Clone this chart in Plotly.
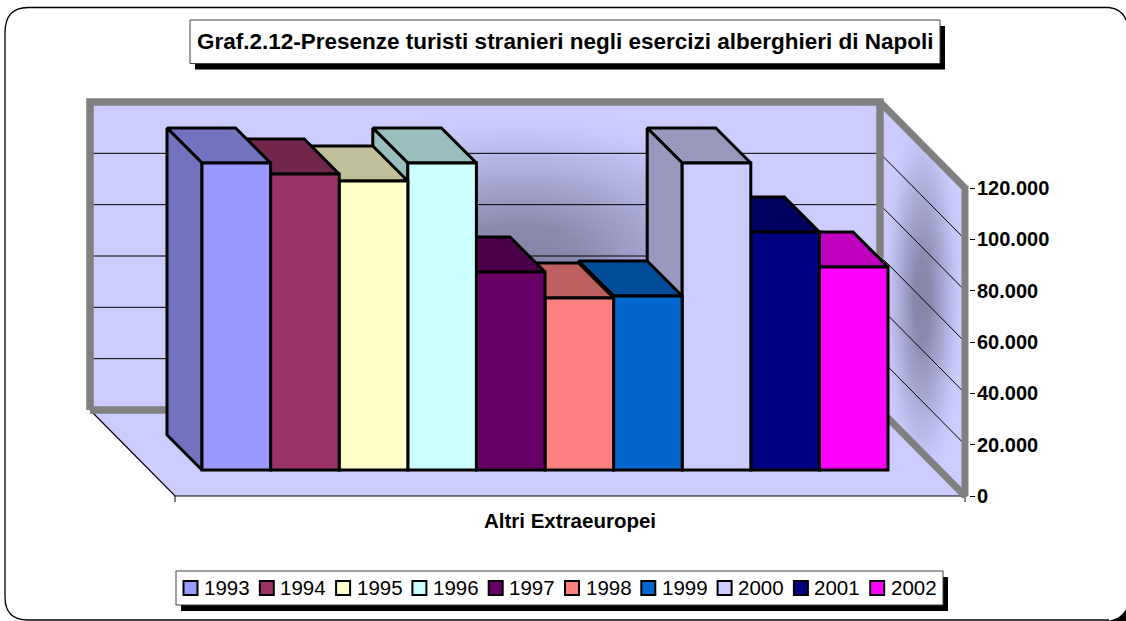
import plotly.graph_objects as go

# ---- data ----
YEARS = ["1993", "1994", "1995", "1996", "1997", "1998", "1999", "2000", "2001", "2002"]
VALUES = [119600, 115300, 112600, 119600, 77100, 67000, 67800, 119600, 92700, 79100]
COLORS = ["#9999FF", "#993366", "#FFFFCC", "#CCFFFF", "#660066",
          "#FF8080", "#0066CC", "#CCCCFF", "#000080", "#FF00FF"]
Y_TICKS = [0, 20000, 40000, 60000, 80000, 100000, 120000]
Y_LABELS = ["0", "20.000", "40.000", "60.000", "80.000", "100.000", "120.000"]
TITLE = "Graf.2.12-Presenze turisti stranieri negli esercizi alberghieri di Napoli"
CATEGORY = "Altri Extraeuropei"

# ---- page and oblique projection set-up ----
W, H = 1126, 621
FONT = "Liberation Sans"
PX_X = 68.6                 # pixels per bar
PX_Y = 308 / 120000         # pixels per value unit
X0_PX, Y0_PX = 236.3, 496   # pixel of x=0 and of value 0
X_RANGE = [-X0_PX / PX_X, (W - X0_PX) / PX_X]
Y_RANGE = [-(H - Y0_PX) / PX_Y, Y0_PX / PX_Y]


def dx(p):
    return p / PX_X


def dy(p):
    return p / PX_Y


XL, XR = dx(175 - X0_PX), dx(965 - X0_PX)
YMAX = Y_TICKS[-1]
WX, WY = dx(85), dy(86)       # depth of the chart box
BX, BY = dx(35), dy(35)       # depth of a bar
BASE = dy(26)                 # bar plane above the floor's front edge


def px(x):
    return x / W


def py(y):
    return 1 - y / H


def shade(c, f=0.75):
    r, g, b = (int(c[i:i + 2], 16) for i in (1, 3, 5))
    return f"rgb({int(r * f)},{int(g * f)},{int(b * f)})"


fig = go.Figure()


def poly(xs, ys, fill=None, line=None, width=0, z=0, grad=None):
    kw = dict(x=xs, y=ys, mode="lines", hoverinfo="skip", showlegend=False, zorder=z,
              line=dict(width=width, color=line or "rgba(0,0,0,0)"))
    if fill or grad:
        kw["fill"] = "toself"
        kw["fillcolor"] = fill
    if grad:
        kw["fillgradient"] = dict(type="radial", colorscale=grad)
    fig.add_trace(go.Scatter(**kw))


WALL = "#CCCCFF"
GRAY = "#808080"
DARK = [[0, "rgba(132,132,168,1)"], [0.2, "rgba(134,134,170,0.95)"],
        [0.45, "rgba(140,140,178,0.65)"], [0.7, "rgba(150,150,190,0.3)"],
        [1, "rgba(204,204,255,0)"]]

# floor, back wall, side wall
poly([XL, XR, XR - WX, XL - WX, XL], [0, 0, WY, WY, 0], fill=WALL, z=-20)
poly([XL - WX, XR - WX, XR - WX, XL - WX, XL - WX], [WY, WY, WY + YMAX, WY + YMAX, WY], fill=WALL, z=-20)
poly([XR, XR - WX, XR - WX, XR, XR], [0, WY, WY + YMAX, YMAX, 0], fill=WALL, z=-20)

# soft shading on the walls
cx, rx = dx(520 - X0_PX), dx(280)
poly([cx - rx, cx + rx, cx + rx, cx - rx, cx - rx],
     [WY, WY, WY + YMAX, WY + YMAX, WY], grad=DARK, z=-19)
poly([XR, XR - WX, XR - WX, XR, XR], [0, WY, WY + YMAX, YMAX, 0], grad=DARK, z=-19)

# gridlines on back and side wall
gx, gy = [], []
for t in Y_TICKS[1:-1]:
    gx += [XL - WX, XR - WX, XR, None]
    gy += [WY + t, WY + t, t, None]
poly(gx, gy, line="#000000", width=1, z=-18)

# floor edges
poly([XL - WX, XL, XR], [WY, 0, 0], line="#000000", width=1.2, z=-18)
poly([XL, XL, None, XR, XR], [0, -dy(6), None, 0, -dy(6)], line="#000000", width=1, z=-18)

# grey frame
poly([XL - WX, XR - WX, XR - WX, XL - WX, XL - WX], [WY, WY, WY + YMAX, WY + YMAX, WY],
     line=GRAY, width=7.5, z=-17)
poly([XR - WX, XR, XR, XR - WX], [WY + YMAX, YMAX, 0, WY], line=GRAY, width=7, z=-17)

# bars, painted from right to left so that nearer left bars hide the tops behind them
EDGE = 3
for i, (name, v, c) in reversed(list(enumerate(zip(YEARS, VALUES, COLORS)))):
    z = 2 * (len(YEARS) - i)
    xa, xb = i - 0.5, i + 0.5
    top = BASE + v
    poly([xa, xb, xb - BX, xa - BX, xa], [top, top, top + BY, top + BY, top],
         fill=shade(c), line="#000000", width=EDGE, z=z)
    poly([xa, xa - BX, xa - BX, xa, xa], [BASE, BASE + BY, top + BY, top, BASE],
         fill=shade(c), line="#000000", width=EDGE, z=z)
    fig.add_trace(go.Bar(x=[i], y=[v], base=BASE, width=1, name=name, showlegend=False,
                         hoverinfo="skip", zorder=z + 1,
                         marker=dict(color=c, line=dict(color="#000000", width=EDGE))))

# ---- chrome ----
shapes = []
shapes.append(dict(type="path", xref="paper", yref="paper", layer="below",
                   path=f"M {px(1126)} {py(20)} Q {px(1122)} {py(9)} {px(1109)} {py(7.5)} "
                        f"L {px(28)} {py(7.5)} Q {px(5)} {py(7.5)} {px(5)} {py(33)} "
                        f"L {px(5)} {py(597)} Q {px(5)} {py(620)} {px(28)} {py(620)} "
                        f"L {px(1109)} {py(620)}",
                   line=dict(color="#000000", width=1.3)))
shapes.append(dict(type="path", xref="paper", yref="paper", layer="below",
                   path=f"M {px(1108)} {py(621)} Q {px(1122)} {py(618)} {px(1126)} {py(609)} "
                        f"L {px(1126)} {py(621)} Z",
                   fillcolor="#000000", line=dict(width=0)))


def box(x0, y0, x1, y1):
    shapes.append(dict(type="rect", xref="paper", yref="paper",
                       x0=px(x0 + 5), x1=px(x1 + 5), y0=py(y0 + 6), y1=py(y1 + 6),
                       fillcolor="#000000", line=dict(width=0)))
    shapes.append(dict(type="rect", xref="paper", yref="paper",
                       x0=px(x0), x1=px(x1), y0=py(y0), y1=py(y1),
                       fillcolor="#FFFFFF", line=dict(color="#404040", width=1)))


box(190, 20, 940, 63.5)
box(176, 571, 943, 605)

annotations = [
    dict(text=f"<b>{TITLE}</b>", xref="paper", yref="paper", x=px(565), y=py(42), showarrow=False,
         xanchor="center", yanchor="middle", font=dict(family=FONT, size=22.5, color="#000000")),
    dict(text=f"<b>{CATEGORY}</b>", xref="paper", yref="paper", x=px(570), y=py(520), showarrow=False,
         xanchor="center", yanchor="middle", font=dict(family=FONT, size=20.5, color="#000000")),
]
for i, name in enumerate(YEARS):
    sx = 183.5 + 76.3 * i
    shapes.append(dict(type="rect", xref="paper", yref="paper",
                       x0=px(sx), x1=px(sx + 14), y0=py(581), y1=py(595),
                       fillcolor=COLORS[i], line=dict(color="#000000", width=2)))
    annotations.append(dict(text=name, xref="paper", yref="paper", x=px(sx + 18.5), y=py(587),
                            showarrow=False, xanchor="left", yanchor="middle",
                            font=dict(family=FONT, size=20.5, color="#000000")))

fig.update_layout(
    width=W, height=H, margin=dict(l=0, r=0, t=0, b=0), autosize=False,
    paper_bgcolor="#FFFFFF", plot_bgcolor="rgba(0,0,0,0)",
    barmode="overlay", showlegend=False, shapes=shapes, annotations=annotations,
    xaxis=dict(range=X_RANGE, domain=[0, 1], visible=False, fixedrange=True),
    yaxis=dict(range=Y_RANGE, domain=[0, 1], anchor="free", position=969 / W, side="right",
               tickvals=Y_TICKS, ticktext=Y_LABELS, ticks="outside", ticklen=5, tickwidth=1.3,
               ticklabelstandoff=-2,
               tickcolor="#000000", showgrid=False, zeroline=False, showline=False, fixedrange=True,
               tickfont=dict(family=FONT, size=20, color="#000000", weight="bold")),
)

fig.write_html("out.html", config={"displayModeBar": False},
               post_script="document.body.style.margin='0';document.documentElement.style.overflow='hidden';")
